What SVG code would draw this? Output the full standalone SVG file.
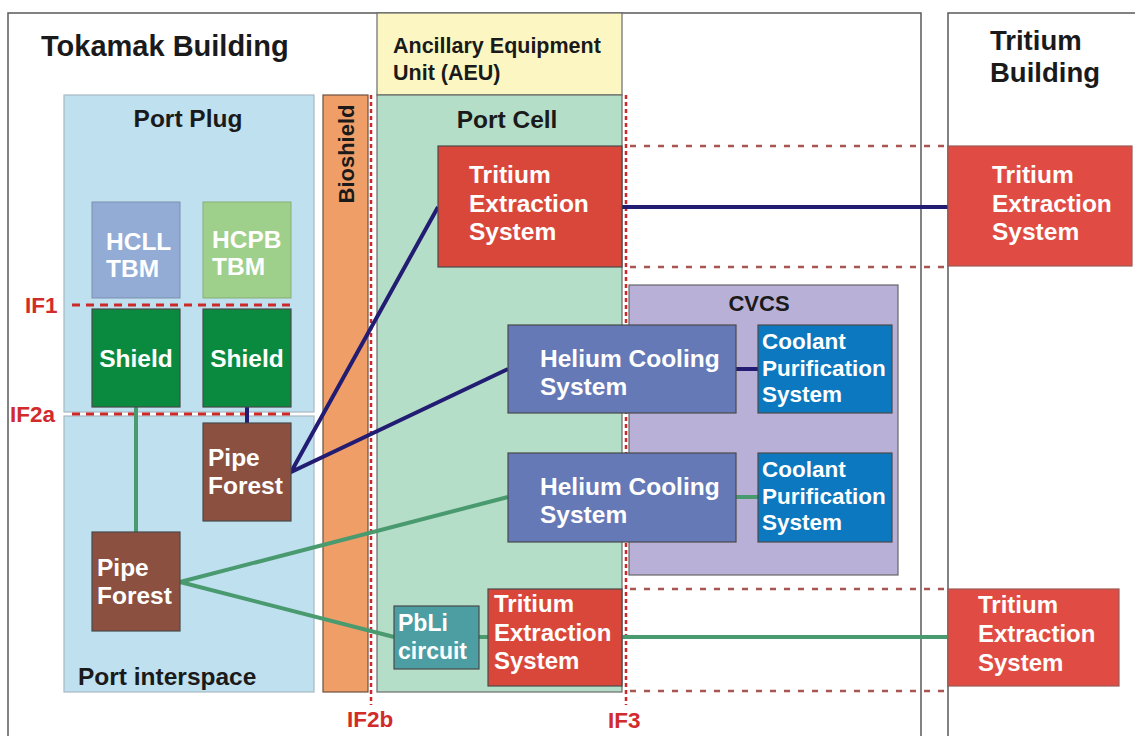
<svg xmlns="http://www.w3.org/2000/svg" width="1135" height="736" viewBox="0 0 1135 736">
<style>
text{font-family:"Liberation Sans",Arial,sans-serif;font-weight:bold}
.dk{fill:#1a1a1a}
.wt{fill:#ffffff}
.rd{fill:#d22b2b}
.frame{fill:none;stroke:#5a5a5a;stroke-width:1.5}
.node{stroke:#4a4a4a;stroke-width:1.2}
.navy{stroke:#221c72;stroke-width:4;fill:none}
.green{stroke:#4a9a70;stroke-width:4;fill:none}
.ifv{stroke:#cc2a2a;stroke-width:2.5;stroke-dasharray:4 3;fill:none}
.ifh{stroke:#cc2a2a;stroke-width:3;stroke-dasharray:8 6;fill:none}
.zone{stroke:#a8564f;stroke-width:2.5;stroke-dasharray:6 8;fill:none}
</style>
<rect width="1135" height="736" fill="#ffffff"/>
<g id="frames">
<path class="frame" d="M8,736 V13 H921 V736"/>
<path class="frame" d="M948,736 V13 H1135"/>
</g>
<g id="tokamak-building"><text class="dk" x="41" y="56" font-size="29">Tokamak Building</text></g>
<g id="tritium-building"><text class="dk" x="990" y="50" font-size="27.5">Tritium</text><text class="dk" x="990" y="82" font-size="27.5">Building</text></g>
<g id="port-plug"><rect x="64" y="95" width="250" height="317" fill="#bfe0ef" stroke="#a7b8c2" stroke-width="1.2"/><text class="dk" x="188" y="127" font-size="24.5" text-anchor="middle">Port Plug</text></g>
<g id="port-interspace"><rect x="64" y="416" width="250" height="276" fill="#bfe0ef" stroke="#a7b8c2" stroke-width="1.2"/><text class="dk" x="78" y="685" font-size="24.5">Port interspace</text></g>
<g id="bioshield"><rect x="323" y="95" width="45" height="597" fill="#f09e68" stroke="#6a5040" stroke-width="1.2"/><text class="dk" transform="translate(354,154) rotate(-90)" font-size="22" text-anchor="middle">Bioshield</text></g>
<g id="aeu"><rect x="377" y="13" width="245" height="82" fill="#fcf7c2" stroke="#6a6a6a" stroke-width="1.2"/><text class="dk" x="393" y="53" font-size="21.5">Ancillary Equipment</text><text class="dk" x="393" y="80" font-size="21.5">Unit (AEU)</text></g>
<g id="port-cell"><rect x="377" y="95" width="245" height="597" fill="#b4dec8" stroke="#6a6a6a" stroke-width="1.2"/><text class="dk" x="507" y="128" font-size="24.5" text-anchor="middle">Port Cell</text></g>
<g id="cvcs"><rect x="629" y="285" width="269" height="290" fill="#b8b0d6" stroke="#666" stroke-width="1.2"/><text class="dk" x="759" y="311" font-size="22" text-anchor="middle">CVCS</text></g>
<g id="interfaces">
<line class="ifv" x1="371" y1="95" x2="371" y2="705"/>
<line class="ifv" x1="626" y1="95" x2="626" y2="705"/>
<line class="ifh" x1="72" y1="305" x2="292" y2="305"/>
<line class="ifh" x1="72" y1="414" x2="292" y2="414"/>
<line class="zone" x1="630" y1="146" x2="948" y2="146"/>
<line class="zone" x1="630" y1="267" x2="948" y2="267"/>
<line class="zone" x1="630" y1="589" x2="948" y2="589"/>
<line class="zone" x1="630" y1="691" x2="948" y2="691"/>
<text class="rd" x="25" y="313" font-size="22.5">IF1</text>
<text class="rd" x="10" y="422" font-size="22.5">IF2a</text>
<text class="rd" x="347" y="727" font-size="22.5">IF2b</text>
<text class="rd" x="608" y="728" font-size="22.5">IF3</text>
</g>
<g id="connectors">
<line class="navy" x1="622" y1="207" x2="948" y2="207"/>
<line class="navy" x1="736" y1="369" x2="758" y2="369"/>
<line class="navy" x1="247" y1="407" x2="247" y2="423"/>
<polyline class="navy" points="438,207 291,472 508,369"/>
<line class="green" x1="736" y1="497" x2="758" y2="497"/>
<line class="green" x1="136" y1="407" x2="136" y2="532"/>
<polyline class="green" points="508,497 180,582 394,637"/>
<line class="green" x1="479" y1="637" x2="488" y2="637"/>
<line class="green" x1="622" y1="637" x2="948" y2="637"/>
</g>
<g id="hcll-tbm"><rect x="92" y="202" width="88" height="96" fill="#93acd6" stroke="#7d8fae" stroke-width="1"/><text class="wt" x="106" y="250" font-size="24.5">HCLL</text><text class="wt" x="106" y="277" font-size="24.5">TBM</text></g>
<g id="hcpb-tbm"><rect x="203" y="202" width="88" height="96" fill="#9fd08b" stroke="#86ad78" stroke-width="1"/><text class="wt" x="212" y="248" font-size="24.5">HCPB</text><text class="wt" x="212" y="275" font-size="24.5">TBM</text></g>
<g id="shield-1"><rect class="node" x="92" y="309" width="88" height="98" fill="#0a8a3f"/><text class="wt" x="136" y="367" font-size="24.5" text-anchor="middle">Shield</text></g>
<g id="shield-2"><rect class="node" x="203" y="309" width="88" height="98" fill="#0a8a3f"/><text class="wt" x="247" y="367" font-size="24.5" text-anchor="middle">Shield</text></g>
<g id="pipe-forest-1"><rect class="node" x="203" y="423" width="88" height="98" fill="#8b5040"/><text class="wt" x="208" y="466" font-size="24.5">Pipe</text><text class="wt" x="208" y="494" font-size="24.5">Forest</text></g>
<g id="pipe-forest-2"><rect class="node" x="92" y="532" width="88" height="99" fill="#8b5040"/><text class="wt" x="97" y="576" font-size="24.5">Pipe</text><text class="wt" x="97" y="604" font-size="24.5">Forest</text></g>
<g id="tes-port-cell"><rect class="node" x="438" y="146" width="184" height="121" fill="#d9473b"/><text class="wt" x="469" y="183" font-size="24.5">Tritium</text><text class="wt" x="469" y="212" font-size="24.5">Extraction</text><text class="wt" x="469" y="240" font-size="24.5">System</text></g>
<g id="tes-tritium-1"><rect x="948" y="146" width="184" height="120" fill="#e04c43" stroke="#9a5a55" stroke-width="1.2"/><text class="wt" x="992" y="183" font-size="24.5">Tritium</text><text class="wt" x="992" y="212" font-size="24.5">Extraction</text><text class="wt" x="992" y="240" font-size="24.5">System</text></g>
<g id="hcs-1"><rect class="node" x="508" y="325" width="228" height="88" fill="#6579b7"/><text class="wt" x="540" y="367" font-size="24.5">Helium Cooling</text><text class="wt" x="540" y="395" font-size="24.5">System</text></g>
<g id="hcs-2"><rect class="node" x="508" y="453" width="228" height="89" fill="#6579b7"/><text class="wt" x="540" y="495" font-size="24.5">Helium Cooling</text><text class="wt" x="540" y="523" font-size="24.5">System</text></g>
<g id="cps-1"><rect class="node" x="758" y="325" width="134" height="88" fill="#0b78bf"/><text class="wt" x="762" y="349" font-size="22.5">Coolant</text><text class="wt" x="762" y="376" font-size="22.5">Purification</text><text class="wt" x="762" y="402" font-size="22.5">System</text></g>
<g id="cps-2"><rect class="node" x="758" y="453" width="134" height="89" fill="#0b78bf"/><text class="wt" x="762" y="477" font-size="22.5">Coolant</text><text class="wt" x="762" y="504" font-size="22.5">Purification</text><text class="wt" x="762" y="530" font-size="22.5">System</text></g>
<g id="pbli-circuit"><rect class="node" x="394" y="606" width="85" height="63" fill="#4c9ea3"/><text class="wt" x="398" y="631" font-size="23">PbLi</text><text class="wt" x="398" y="659" font-size="23">circuit</text></g>
<g id="tes-port-cell-2"><rect class="node" x="488" y="589" width="134" height="97" fill="#d9473b"/><text class="wt" x="494" y="612" font-size="24">Tritium</text><text class="wt" x="494" y="641" font-size="24">Extraction</text><text class="wt" x="494" y="669" font-size="24">System</text></g>
<g id="tes-tritium-2"><rect x="948" y="589" width="171" height="97" fill="#e04c43" stroke="#9a5a55" stroke-width="1.2"/><text class="wt" x="978" y="613" font-size="24">Tritium</text><text class="wt" x="978" y="642" font-size="24">Extraction</text><text class="wt" x="978" y="671" font-size="24">System</text></g>
</svg>
